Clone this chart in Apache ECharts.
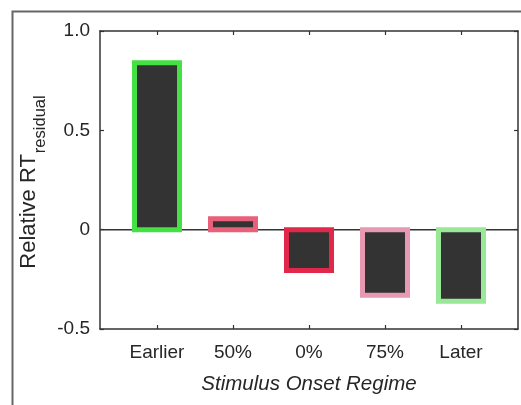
<!DOCTYPE html>
<html>
<head>
<meta charset="utf-8">
<script src="https://cdn.jsdelivr.net/npm/echarts@6/dist/echarts.min.js"></script>
<style>
  html, body { margin: 0; padding: 0; background: #fff; }
  #chart { width: 521px; height: 405px; }
</style>
</head>
<body>
<div id="chart"></div>
<script>
// Onset regimes along the x axis, in plotting order
const regimes = ['Earlier', '50%', '0%', '75%', 'Later'];
// Relative RT residual for each regime
const rtResidual = [0.84, 0.055, -0.205, -0.33, -0.36];
// Outline colour of each bar
const edgeColors = ['#44e044', '#e8607a', '#e0284a', '#e898b0', '#98e898'];
// Y tick values and their printed labels
const yTicks = [-0.5, 0, 0.5, 1.0];
const yTickText = ['-0.5', '0', '0.5', '1.0'];

const positions = regimes.map((_, i) => i + 1);
const FONT = '"Liberation Sans", Arial, Helvetica, sans-serif';
const AXIS = '#333333';
const TEXT = '#262626';
const BAR_PX = 45;     // bar width between outline centres
const EDGE_PX = 5;     // outline thickness, centred on the bar edge

const chart = echarts.init(document.getElementById('chart'), null, { renderer: 'canvas' });

const tickStyle = { show: true, inside: true, length: 4, lineStyle: { color: AXIS, width: 1.2 } };

chart.setOption({
  backgroundColor: '#ffffff',
  animation: false,
  graphic: [{
    // figure frame
    type: 'rect',
    left: 10, top: 9,
    shape: { width: 620, height: 520 },
    style: { fill: 'none', stroke: '#666', lineWidth: 2 },
    silent: true
  }, {
    // y-axis title with subscript, reading bottom to top
    type: 'text',
    x: 49, y: 182,
    rotation: Math.PI / 2,
    silent: true,
    style: {
      text: '{a|Relative RT}{b|residual}',
      align: 'center', verticalAlign: 'bottom',
      fill: TEXT, font: '22px ' + FONT,
      rich: {
        a: { fontFamily: FONT, fontSize: 22, fill: TEXT, lineHeight: 22, verticalAlign: 'bottom', padding: [0, 0, 9, 0] },
        b: { fontFamily: FONT, fontSize: 16.5, fill: TEXT, lineHeight: 16, verticalAlign: 'bottom', padding: [0, 0, 0, 1] }
      }
    }
  }],
  grid: { left: 100, top: 31, right: 3, bottom: 76, containLabel: false },
  xAxis: [{
    type: 'value', position: 'bottom', min: 0.25, max: 5.75,
    axisLine: { show: true, onZero: false, lineStyle: { color: AXIS, width: 1.5 } },
    axisTick: Object.assign({ customValues: positions }, tickStyle),
    axisLabel: {
      customValues: positions, margin: 14, color: TEXT, fontFamily: FONT, fontSize: 19,
      formatter: v => regimes[Math.round(v) - 1] || ''
    },
    splitLine: { show: false },
    name: 'Stimulus Onset Regime', nameLocation: 'middle', nameGap: 45,
    nameTextStyle: { fontFamily: FONT, fontSize: 20.5, fontStyle: 'italic', color: TEXT }
  }, {
    type: 'value', position: 'top', min: 0.25, max: 5.75,
    axisLine: { show: true, onZero: false, lineStyle: { color: AXIS, width: 1.5 } },
    axisTick: Object.assign({ customValues: positions }, tickStyle),
    axisLabel: { show: false },
    splitLine: { show: false }
  }],
  yAxis: [{
    type: 'value', position: 'left', min: -0.5, max: 1.0, interval: 0.5,
    axisLine: { show: true, onZero: false, lineStyle: { color: AXIS, width: 1.5 } },
    axisTick: tickStyle,
    axisLabel: {
      margin: 10, color: TEXT, fontFamily: FONT, fontSize: 19,
      formatter: v => {
        const k = yTicks.findIndex(t => Math.abs(t - v) < 1e-9);
        return k >= 0 ? yTickText[k] : '';
      }
    },
    splitLine: { show: false }
  }, {
    type: 'value', position: 'right', min: -0.5, max: 1.0, interval: 0.5,
    axisLine: { show: true, onZero: false, lineStyle: { color: AXIS, width: 1.5 } },
    axisTick: tickStyle,
    axisLabel: { show: false },
    splitLine: { show: false }
  }],
  series: [{
    // baseline at zero, drawn beneath the bars
    type: 'line', xAxisIndex: 0, yAxisIndex: 0, z: 1,
    data: [[0.25, 0], [5.75, 0]],
    showSymbol: false, silent: true,
    lineStyle: { color: AXIS, width: 1.5 }
  }, {
    // bars with outlines centred on their edges
    type: 'custom', xAxisIndex: 0, yAxisIndex: 0, z: 3,
    data: rtResidual.map((v, i) => [positions[i], v]),
    renderItem: (params, api) => {
      const i = params.dataIndex;
      const top = api.coord([api.value(0), api.value(1)]);
      const base = api.coord([api.value(0), 0]);
      return {
        type: 'rect',
        shape: {
          x: top[0] - BAR_PX / 2,
          y: Math.min(top[1], base[1]),
          width: BAR_PX,
          height: Math.abs(base[1] - top[1])
        },
        style: { fill: '#333333', stroke: edgeColors[i], lineWidth: EDGE_PX }
      };
    }
  }]
});
</script>
</body>
</html>
